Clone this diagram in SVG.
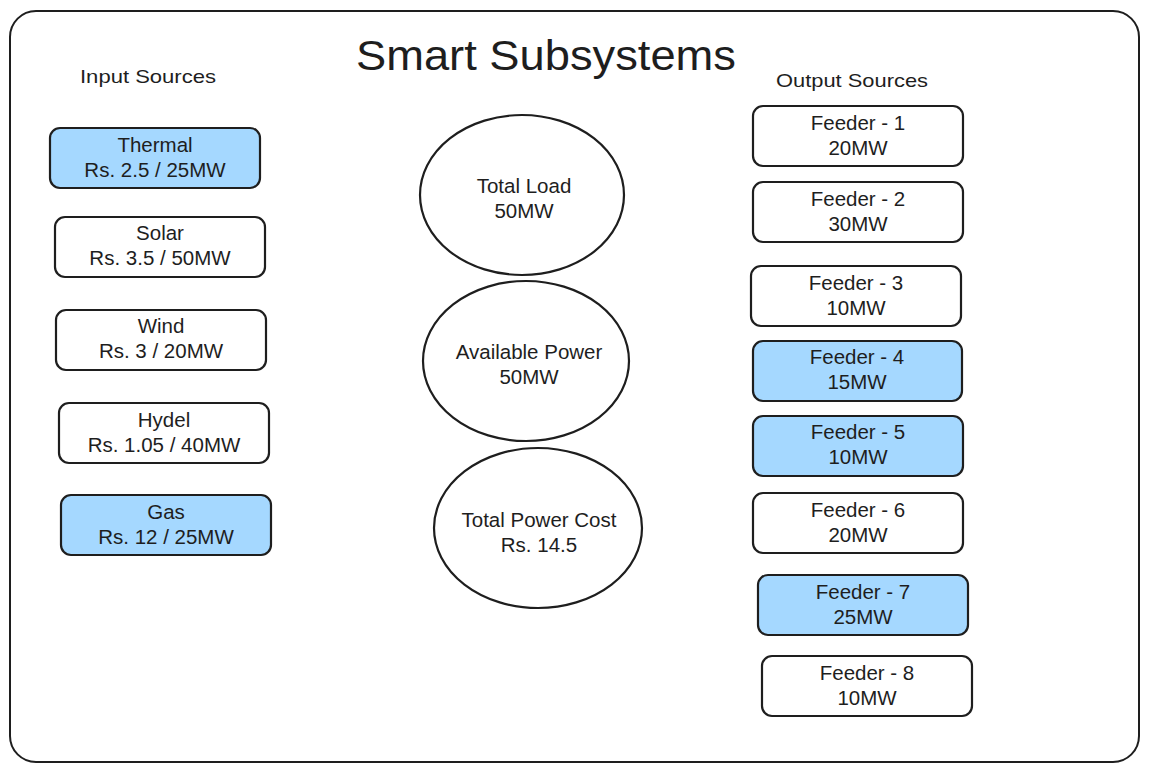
<svg xmlns="http://www.w3.org/2000/svg" width="1149" height="771" viewBox="0 0 1149 771">
<style>
.frame{fill:#ffffff;stroke:#1e1e1e;stroke-width:2}
.box{fill:#ffffff;stroke:#1e1e1e;stroke-width:2.2}
.blue{fill:#a5d8ff;stroke:#1e1e1e;stroke-width:2.2}
.circ{fill:#ffffff;stroke:#1e1e1e;stroke-width:2.2}
text{font-family:"Liberation Sans","DejaVu Sans",sans-serif;fill:#1e1e1e;text-anchor:middle}
.t{font-size:20.5px}
.h{font-size:19px}
.title{font-size:42px}
</style>
<rect width="1149" height="771" fill="#ffffff"/>
<rect class="frame" x="10" y="11" width="1129" height="751" rx="26"/>
<text class="title" x="546" y="70" textLength="380" lengthAdjust="spacingAndGlyphs">Smart Subsystems</text>
<text class="h" x="148" y="83" textLength="136" lengthAdjust="spacingAndGlyphs">Input Sources</text>
<text class="h" x="852" y="87" textLength="152" lengthAdjust="spacingAndGlyphs">Output Sources</text>

<g id="thermal"><rect class="blue" x="50" y="128" width="210" height="60" rx="10"/><text class="t" x="155" y="152">Thermal</text><text class="t" x="155" y="177">Rs. 2.5 / 25MW</text></g>
<g id="solar"><rect class="box" x="55" y="217" width="210" height="60" rx="10"/><text class="t" x="160" y="240">Solar</text><text class="t" x="160" y="265">Rs. 3.5 / 50MW</text></g>
<g id="wind"><rect class="box" x="56" y="310" width="210" height="60" rx="10"/><text class="t" x="161" y="333">Wind</text><text class="t" x="161" y="358">Rs. 3 / 20MW</text></g>
<g id="hydel"><rect class="box" x="59" y="403" width="210" height="60" rx="10"/><text class="t" x="164" y="427">Hydel</text><text class="t" x="164" y="452">Rs. 1.05 / 40MW</text></g>
<g id="gas"><rect class="blue" x="61" y="495" width="210" height="60" rx="10"/><text class="t" x="166" y="519">Gas</text><text class="t" x="166" y="544">Rs. 12 / 25MW</text></g>

<g id="total-load"><ellipse class="circ" cx="522" cy="195" rx="102" ry="80"/><text class="t" x="524" y="193">Total Load</text><text class="t" x="524" y="218">50MW</text></g>
<g id="available-power"><ellipse class="circ" cx="526" cy="361" rx="103" ry="80"/><text class="t" x="529" y="359">Available Power</text><text class="t" x="529" y="384">50MW</text></g>
<g id="total-power-cost"><ellipse class="circ" cx="538" cy="528" rx="104" ry="80"/><text class="t" x="539" y="527">Total Power Cost</text><text class="t" x="539" y="552">Rs. 14.5</text></g>

<g id="feeder-1"><rect class="box" x="753" y="106" width="210" height="60" rx="10"/><text class="t" x="858" y="130">Feeder - 1</text><text class="t" x="858" y="155">20MW</text></g>
<g id="feeder-2"><rect class="box" x="753" y="182" width="210" height="60" rx="10"/><text class="t" x="858" y="206">Feeder - 2</text><text class="t" x="858" y="231">30MW</text></g>
<g id="feeder-3"><rect class="box" x="751" y="266" width="210" height="60" rx="10"/><text class="t" x="856" y="290">Feeder - 3</text><text class="t" x="856" y="315">10MW</text></g>
<g id="feeder-4"><rect class="blue" x="753" y="341" width="209" height="60" rx="10"/><text class="t" x="857" y="364">Feeder - 4</text><text class="t" x="857" y="389">15MW</text></g>
<g id="feeder-5"><rect class="blue" x="753" y="416" width="210" height="60" rx="10"/><text class="t" x="858" y="439">Feeder - 5</text><text class="t" x="858" y="464">10MW</text></g>
<g id="feeder-6"><rect class="box" x="753" y="493" width="210" height="60" rx="10"/><text class="t" x="858" y="517">Feeder - 6</text><text class="t" x="858" y="542">20MW</text></g>
<g id="feeder-7"><rect class="blue" x="758" y="575" width="210" height="60" rx="10"/><text class="t" x="863" y="599">Feeder - 7</text><text class="t" x="863" y="624">25MW</text></g>
<g id="feeder-8"><rect class="box" x="762" y="656" width="210" height="60" rx="10"/><text class="t" x="867" y="680">Feeder - 8</text><text class="t" x="867" y="705">10MW</text></g>
<g id="connectors"></g>
</svg>
